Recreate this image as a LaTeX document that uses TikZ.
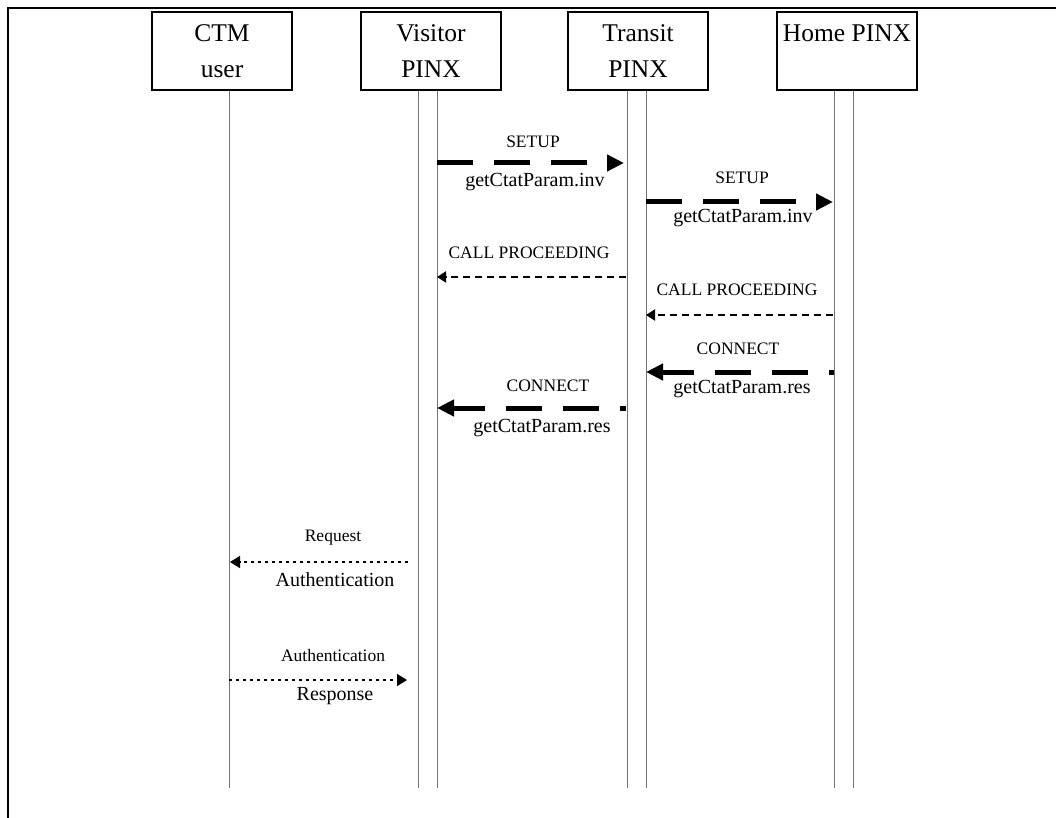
\documentclass[tikz,border=0pt]{standalone}
\usepackage{fontspec}
\setmainfont{Liberation Serif}
\usetikzlibrary{arrows.meta}
\begin{document}
\begin{tikzpicture}[x=1pt,y=-1pt,
  actor/.style={draw,line width=2pt,minimum width=140pt,minimum height=78pt,inner sep=0pt,align=center,font=\fontsize{25.5}{36}\selectfont},
  life/.style={draw=black!55,line width=1pt},
  bigmsg/.style={line width=5pt,dash pattern=on 36pt off 21pt,-{Triangle[length=17pt,width=16pt]}},
  thinmsg/.style={line width=2pt,dash pattern=on 7pt off 5pt,-{Triangle[length=9pt,width=11pt]}},
  dotmsg/.style={line width=1.6pt,dash pattern=on 3pt off 4pt,-{Triangle[length=10pt,width=12pt]}},
  small/.style={font=\fontsize{17.5}{20}\selectfont,inner sep=0pt},
  med/.style={font=\fontsize{20}{22}\selectfont,inner sep=0pt}]
\useasboundingbox (0,0) rectangle (1056,818);
\draw[line width=2.5pt,line join=miter] (8,818) -- (8,8) -- (1056,8);

% actors
\node[actor] (ctm)  at (222,51) {CTM\\user};
\node[actor] (vis)  at (431,51) {Visitor\\PINX};
\node[actor] (tra)  at (638,51) {Transit\\PINX};
\node[actor] (home) at (847,51) {Home PINX\\\mbox{}};

% lifeline ends
\coordinate (ctmB) at (229,788);
\coordinate (visL) at (418,788);
\coordinate (visR) at (437,788);
\coordinate (traL) at (627,788);
\coordinate (traR) at (646,788);
\coordinate (homL) at (834,788);
\coordinate (homR) at (853,788);
\foreach \c in {ctmB}{\draw[life] (ctm.south -| \c) -- (\c);}
\foreach \c in {visL,visR}{\draw[life] (vis.south -| \c) -- (\c);}
\foreach \c in {traL,traR}{\draw[life] (tra.south -| \c) -- (\c);}
\foreach \c in {homL,homR}{\draw[life] (home.south -| \c) -- (\c);}

% message end points
\coordinate (s1a) at (437,163); \coordinate (s1b) at (624,163);
\coordinate (s2a) at (646,202); \coordinate (s2b) at (833,202);
\coordinate (p1a) at (626,277); \coordinate (p1b) at (437,277);
\coordinate (p2a) at (833,315); \coordinate (p2b) at (646,315);
\coordinate (c2a) at (834,372); \coordinate (c2b) at (646,372);
\coordinate (c1a) at (626,408); \coordinate (c1b) at (437,408);
\coordinate (r1a) at (408,562); \coordinate (r1b) at (230,562);
\coordinate (r2a) at (229,680); \coordinate (r2b) at (407,680);

% messages
\draw[bigmsg] (s1a) -- (s1b);
\node[small] (s1t) at (533,142) {SETUP};
\node[med]   (s1u) at (535,182) {getCtatParam.inv};

\draw[bigmsg] (s2a) -- (s2b);
\node[small] (s2t) at (742,178) {SETUP};
\node[med]   (s2u) at (743,218) {getCtatParam.inv};

\draw[thinmsg] (p1a) -- (p1b);
\node[small] (p1t) at (529,253) {CALL PROCEEDING};

\draw[thinmsg] (p2a) -- (p2b);
\node[small] (p2t) at (737,290) {CALL PROCEEDING};

\draw[bigmsg,dash phase=31pt] (c2a) -- (c2b);
\node[small] (c2t) at (738,349) {CONNECT};
\node[med]   (c2u) at (742,389) {getCtatParam.res};

\draw[bigmsg,dash phase=30pt] (c1a) -- (c1b);
\node[small] (c1t) at (548,386) {CONNECT};
\node[med]   (c1u) at (542,428) {getCtatParam.res};

\draw[dotmsg] (r1a) -- (r1b);
\node[small] (r1t) at (333,538) {Request};
\node[med]   (r1u) at (335,580) {Authentication};

\draw[dotmsg] (r2a) -- (r2b);
\node[small] (r2t) at (333,656) {Authentication};
\node[med]   (r2u) at (335,696) {Response};
\end{tikzpicture}
\end{document}
